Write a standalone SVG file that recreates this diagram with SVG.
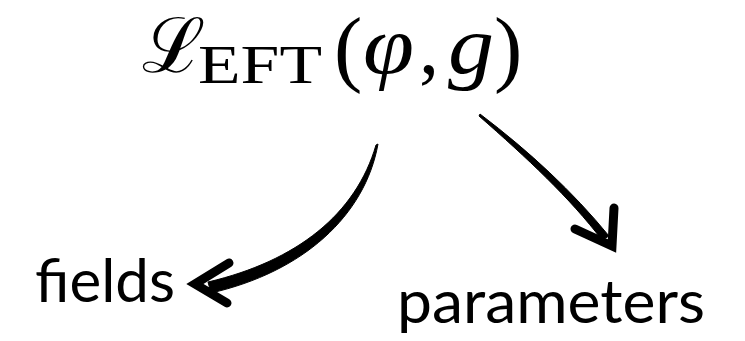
<svg xmlns="http://www.w3.org/2000/svg" width="745" height="341" viewBox="0 0 745 341">
  <style>
    .math { font-family: "Liberation Serif", "DejaVu Serif", serif; fill: #000; }
    .it { font-style: italic; }
    .label { font-family: Lato, "Open Sans", "Liberation Sans", sans-serif; font-size: 60px; fill: #000; }
    .brush { fill: #000; stroke: #000; stroke-width: 1; stroke-linejoin: round; }
    .head { fill: none; stroke: #000; stroke-width: 9; stroke-linecap: round; stroke-linejoin: miter; }
  </style>
  <rect width="745" height="341" fill="#fff"/>
  <g id="lagrangian">
    <text class="math" x="142" y="72" font-size="76" font-family="'DejaVu Serif', serif">ℒ</text>
    <text class="math" x="198" y="83" font-size="54" textLength="124" lengthAdjust="spacingAndGlyphs">EFT</text>
    <text class="math" x="334" y="76" font-size="85">(</text>
    <text class="math it" x="363" y="73" font-size="82" textLength="51" lengthAdjust="spacingAndGlyphs">φ</text>
    <text class="math" x="419" y="73" font-size="80">,</text>
    <text class="math it" x="448" y="73" font-size="82" textLength="46" lengthAdjust="spacingAndGlyphs">g</text>
    <text class="math" x="494" y="76" font-size="85">)</text>
  </g>
  <g id="fields">
    <text class="label" x="35" y="302" textLength="140" lengthAdjust="spacingAndGlyphs">fields</text>
  </g>
  <g id="parameters">
    <text class="label" x="397" y="323" textLength="308" lengthAdjust="spacingAndGlyphs">parameters</text>
  </g>
  <g id="connectors">
    <path class="brush" d="M378,144 C365,216 303,272 211,293 L208,282 C297,261 356,214 376,145 Z"/>
    <polyline class="head" points="229,263 195,284 227,303"/>
    <path class="brush" d="M480,114 C530,152 573,192 609,236 L602,240 C570,198 527,158 479,116 Z"/>
    <polyline class="head" points="575,229 612,246 614,208"/>
  </g>
</svg>
